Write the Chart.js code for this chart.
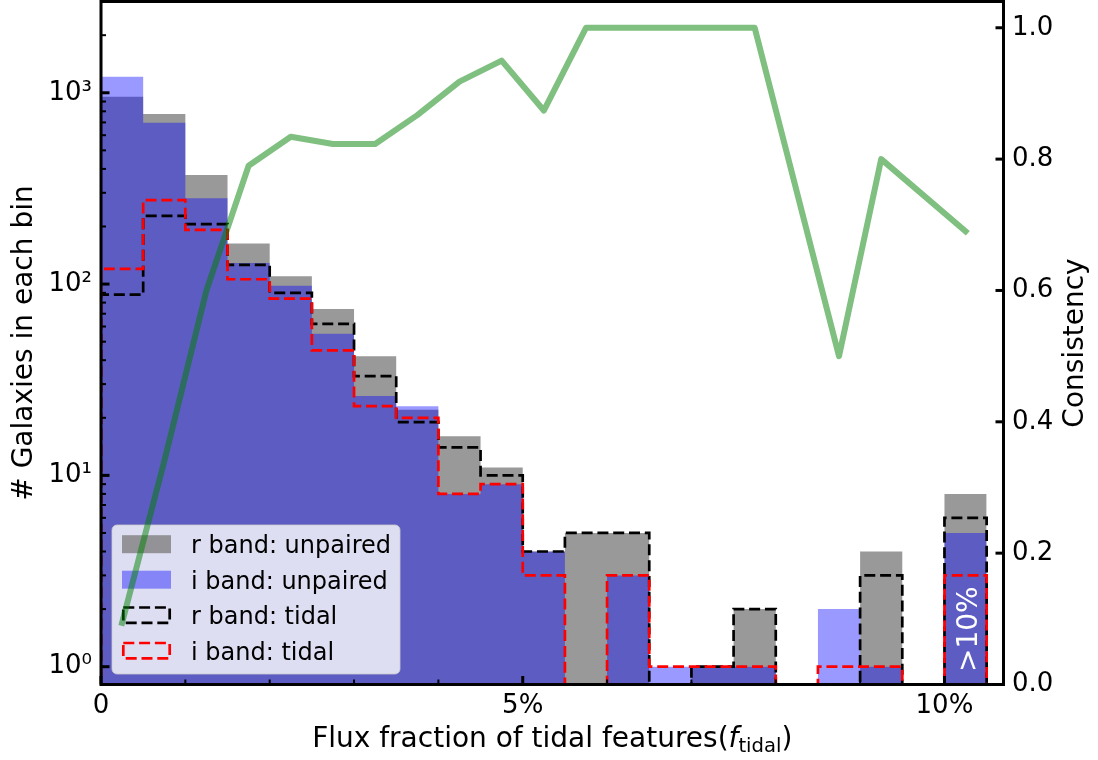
<!DOCTYPE html>
<html>
<head>
<meta charset="utf-8">
<script src="https://cdn.jsdelivr.net/npm/chart.js@4.4.1/dist/chart.umd.min.js"></script>
<style>
  body { margin: 0; background: #fff; }
  canvas { display: block; }
</style>
</head>
<body>
<canvas id="grafico" width="1098" height="760"></canvas>
<script>
// bins de 0.5% (o ultimo bin e o ">10%")
const binStart = [0, 0.5, 1, 1.5, 2, 2.5, 3, 3.5, 4, 4.5, 5, 5.5, 6, 6.5, 7, 7.5, 8, 8.5, 9, 9.5, 10];
const binWidth = 0.5;

const rUnpaired = [954, 775, 372, 163, 110, 74, 42, 22, 16, 11, 4, 5, 5, 0, 1, 2, 0, 0, 4, 0, 8];
const iUnpaired = [1213, 698, 281, 129, 98, 55, 26, 23, 8, 9, 4, 0, 3, 1, 1, 1, 0, 2, 1, 0, 5];
const rTidal = [88, 227, 206, 126, 90, 62, 33, 19, 14, 10, 4, 5, 5, 0, 1, 2, 0, 0, 3, 0, 6];
const iTidal = [120, 275, 192, 106, 84, 45, 23, 20, 8, 9, 3, 0, 3, 1, 1, 1, 0, 1, 1, 0, 3];
const consistency = [0.094, 0.34, 0.60, 0.79, 0.834, 0.823, 0.823, 0.867, 0.918, 0.95, 0.874, 1, 1, 1, 1, 1, null, 0.50, 0.80, null, 0.69];

const legendLabels = ['r band: unpaired', 'i band: unpaired', 'r band: tidal', 'i band: tidal'];
const xTicks = [0, 1, 2, 3, 4, 5, 6, 7, 8, 9, 10];
const xTickLabels = ['0', '', '', '', '', '5%', '', '', '', '', '10%'];
const yTicks = [1, 10, 100, 1000];
const yTickLabels = ['10⁰', '10¹', '10²', '10³'];
const consTicks = [0, 0.2, 0.4, 0.6, 0.8, 1.0];
const consTickLabels = ['0.0', '0.2', '0.4', '0.6', '0.8', '1.0'];

const FONT = "'DejaVu Sans', sans-serif";
const yMin = 0.807, yMax = 3000;
const floorValue = 0.5; // contagem zero cai abaixo do eixo
const DASH = [11, 4.8];

// minor ticks do eixo log
const yMinor = [];
for (let d = 1; d <= 1000; d *= 10) {
    for (let m = 2; m <= 9; m++) {
        if (d * m < yMax) yMinor.push(d * m);
    }
}

// contorno tipo histtype='step' (bordas dos bins)
function stepPoints(counts) {
    const pts = [{ x: binStart[0], y: floorValue }];
    counts.forEach((v, k) => pts.push({ x: binStart[k], y: v || floorValue }));
    const end = binStart[binStart.length - 1] + binWidth;
    pts.push({ x: end, y: counts[counts.length - 1] || floorValue });
    pts.push({ x: end, y: floorValue });
    return pts;
}

function line(ctx, x1, y1, x2, y2, w) {
    ctx.lineWidth = w;
    ctx.beginPath();
    ctx.moveTo(x1, y1);
    ctx.lineTo(x2, y2);
    ctx.stroke();
}

function drawLegend(chart) {
    const { ctx, chartArea: a } = chart;
    const ds = chart.data.datasets;
    const x0 = a.left + 11, y0 = a.bottom - 159.5, w = 288, h = 149;
    ctx.save();
    ctx.fillStyle = 'rgba(255,255,255,0.8)';
    ctx.strokeStyle = 'rgba(204,204,204,0.8)';
    ctx.lineWidth = 1;
    ctx.beginPath();
    ctx.roundRect(x0, y0, w, h, 5);
    ctx.fill();
    ctx.stroke();
    legendLabels.forEach((lab, i) => {
        const cy = y0 + 19.2 + i * 35.5;
        const sx = x0 + 10, sw = 49, sh = 18;
        if (i < 2) {
            ctx.fillStyle = ds[i].backgroundColor;
            ctx.fillRect(sx, cy - sh / 2, sw, sh);
        } else {
            ctx.strokeStyle = ds[i].borderColor;
            ctx.lineWidth = 2.7;
            ctx.setLineDash(ds[i].borderDash);
            ctx.strokeRect(sx + 1.3, cy - sh / 2 + 1.3, sw - 2.6, sh - 2.6);
            ctx.setLineDash([]);
        }
        ctx.fillStyle = '#000';
        ctx.font = '24px ' + FONT;
        ctx.textBaseline = 'alphabetic';
        ctx.textAlign = 'left';
        ctx.fillText(lab, x0 + 79, cy + 9);
    });
    ctx.restore();
}

function drawOverflowLabel(chart) {
    const { ctx, scales } = chart;
    const last = binStart[binStart.length - 1];
    const x = scales.x.getPixelForValue(last + binWidth / 2) + 11;
    const y = scales.y.getPixelForValue(1.57);
    ctx.save();
    ctx.translate(x, y);
    ctx.rotate(-Math.PI / 2);
    ctx.fillStyle = '#fff';
    ctx.font = '28px ' + FONT;
    ctx.textAlign = 'center';
    ctx.textBaseline = 'alphabetic';
    ctx.fillText('>10%', 0, 0);
    ctx.restore();
}

function drawTicksAndFrame(chart) {
    const { ctx, chartArea: a, scales } = chart;
    ctx.save();
    ctx.strokeStyle = '#000';
    ctx.lineCap = 'butt';
    xTicks.forEach((v, i) => {
        const px = scales.x.getPixelForValue(v);
        const major = xTickLabels[i] !== '';
        line(ctx, px, a.bottom, px, a.bottom - (major ? 8.5 : 5), major ? 3 : 2);
    });
    yTicks.forEach(v => {
        const py = scales.y.getPixelForValue(v);
        line(ctx, a.left, py, a.left + 8.5, py, 3);
    });
    yMinor.forEach(v => {
        const py = scales.y.getPixelForValue(v);
        line(ctx, a.left, py, a.left + 5, py, 2);
    });
    consTicks.forEach(v => {
        const py = scales.y1.getPixelForValue(v);
        line(ctx, a.right, py, a.right - 8, py, 3);
    });
    ctx.lineWidth = 3;
    ctx.strokeRect(a.left, a.top, a.right - a.left, a.bottom - a.top);
    ctx.restore();
}

function drawTitles(chart) {
    const { ctx, chartArea: a } = chart;
    const cy = (a.top + a.bottom) / 2;
    ctx.save();
    ctx.fillStyle = '#000';
    ctx.textBaseline = 'alphabetic';
    ctx.textAlign = 'center';
    ctx.font = '28px ' + FONT;

    ctx.save();
    ctx.translate(31.5, cy);
    ctx.rotate(-Math.PI / 2);
    ctx.fillText('# Galaxies in each bin', 0, 0);
    ctx.restore();

    ctx.save();
    ctx.translate(1083, cy);
    ctx.rotate(-Math.PI / 2);
    ctx.fillText('Consistency', 0, 0);
    ctx.restore();

    // eixo x com f_tidal (italico + subscrito)
    const parts = [
        ['Flux fraction of tidal features(', '28px ' + FONT, 0],
        ['f', 'italic 28px ' + FONT, 0],
        ['tidal', '19.6px ' + FONT, 5],
        [')', '28px ' + FONT, 0]
    ];
    let total = 0;
    parts.forEach(p => { ctx.font = p[1]; total += ctx.measureText(p[0]).width; });
    let x = (a.left + a.right) / 2 - total / 2;
    ctx.textAlign = 'left';
    parts.forEach(p => {
        ctx.font = p[1];
        ctx.fillText(p[0], x, 747 + p[2]);
        x += ctx.measureText(p[0]).width;
    });
    ctx.restore();
}

const decor = {
    id: 'decor',
    beforeDatasetDraw(chart, args) {
        if (args.index !== 4) return;
        drawOverflowLabel(chart);
        drawLegend(chart);
    },
    afterDatasetsDraw(chart) {
        drawTicksAndFrame(chart);
    },
    afterDraw(chart) {
        drawTitles(chart);
    }
};

new Chart(document.getElementById('grafico'), {
    type: 'line',
    data: {
        datasets: [{
            label: legendLabels[0],
            data: stepPoints(rUnpaired),
            backgroundColor: 'rgba(128,128,128,0.8)',
            borderWidth: 0,
            stepped: 'before',
            pointRadius: 0,
            fill: 'start',
            order: 5
        }, {
            label: legendLabels[1],
            data: stepPoints(iUnpaired),
            backgroundColor: 'rgba(0,0,255,0.4)',
            borderWidth: 0,
            stepped: 'before',
            pointRadius: 0,
            fill: 'start',
            order: 4
        }, {
            label: legendLabels[2],
            data: stepPoints(rTidal),
            borderColor: '#000',
            borderWidth: 2.7,
            borderDash: DASH,
            stepped: 'before',
            pointRadius: 0,
            fill: false,
            order: 3
        }, {
            label: legendLabels[3],
            data: stepPoints(iTidal),
            borderColor: '#ff0000',
            borderWidth: 2.7,
            borderDash: DASH,
            stepped: 'before',
            pointRadius: 0,
            fill: false,
            order: 2
        }, {
            label: 'Consistency',
            data: consistency.map((v, k) => ({ x: binStart[k] + binWidth / 2, y: v })),
            yAxisID: 'y1',
            borderColor: 'rgba(0,128,0,0.5)',
            borderWidth: 6,
            borderCapStyle: 'square',
            borderJoinStyle: 'round',
            spanGaps: true,
            tension: 0,
            pointRadius: 0,
            fill: false,
            order: 1
        }]
    },
    options: {
        responsive: false,
        devicePixelRatio: 1,
        animation: false,
        events: [],
        layout: { padding: { top: 1.5, left: 0, right: 0, bottom: 0 } },
        plugins: { legend: { display: false }, tooltip: { enabled: false } },
        scales: {
            x: {
                type: 'linear',
                min: 0,
                max: 10.7,
                offset: false,
                grid: { display: false, drawTicks: false },
                border: { display: false },
                afterBuildTicks: s => { s.ticks = xTicks.map(v => ({ value: v })); },
                afterFit: s => { s.height = 75.5; s.paddingLeft = 0; s.paddingRight = 0; },
                ticks: {
                    autoSkip: false,
                    maxRotation: 0,
                    padding: 6,
                    color: '#000',
                    font: { family: FONT, size: 26 },
                    callback: v => xTickLabels[xTicks.indexOf(v)]
                }
            },
            y: {
                type: 'logarithmic',
                position: 'left',
                min: yMin,
                max: yMax,
                grid: { display: false, drawTicks: false },
                border: { display: false },
                afterBuildTicks: s => { s.ticks = yTicks.map(v => ({ value: v })); },
                afterFit: s => { s.width = 101; s.paddingTop = 0; s.paddingBottom = 0; },
                ticks: {
                    autoSkip: false,
                    padding: 9,
                    color: '#000',
                    font: { family: FONT, size: 26 },
                    callback: v => yTickLabels[yTicks.indexOf(v)]
                }
            },
            y1: {
                type: 'linear',
                position: 'right',
                min: 0,
                max: 1.04,
                grid: { display: false, drawTicks: false },
                border: { display: false },
                afterBuildTicks: s => { s.ticks = consTicks.map(v => ({ value: v })); },
                afterFit: s => { s.width = 94.5; s.paddingTop = 0; s.paddingBottom = 0; },
                ticks: {
                    autoSkip: false,
                    padding: 8.5,
                    color: '#000',
                    font: { family: FONT, size: 26 },
                    callback: v => consTickLabels[consTicks.indexOf(v)]
                }
            }
        }
    },
    plugins: [decor]
});
</script>
</body>
</html>
